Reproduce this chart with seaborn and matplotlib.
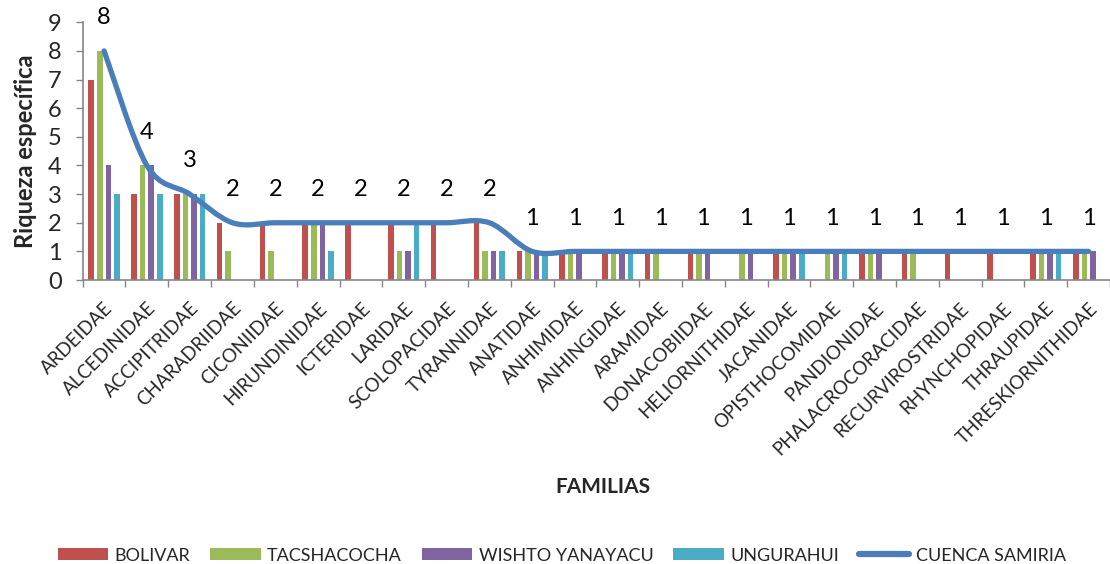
import numpy as np
import pandas as pd
import matplotlib
matplotlib.use("Agg")
import matplotlib.pyplot as plt
from matplotlib.path import Path
from matplotlib.patches import PathPatch, Patch
from matplotlib.lines import Line2D
import seaborn as sns

families = ["ARDEIDAE", "ALCEDINIDAE", "ACCIPITRIDAE", "CHARADRIIDAE", "CICONIIDAE",
            "HIRUNDINIDAE", "ICTERIDAE", "LARIDAE", "SCOLOPACIDAE", "TYRANNIDAE",
            "ANATIDAE", "ANHIMIDAE", "ANHINGIDAE", "ARAMIDAE", "DONACOBIIDAE",
            "HELIORNITHIDAE", "JACANIDAE", "OPISTHOCOMIDAE", "PANDIONIDAE",
            "PHALACROCORACIDAE", "RECURVIROSTRIDAE", "RHYNCHOPIDAE", "THRAUPIDAE",
            "THRESKIORNITHIDAE"]

bolivar = [7, 3, 3, 2, 2, 2, 2, 2, 2, 2, 1, 1, 1, 1, 1, 0, 1, 0, 1, 1, 1, 1, 1, 1]
tacshacocha = [8, 4, 3, 1, 1, 2, 0, 1, 0, 1, 1, 1, 1, 1, 1, 1, 1, 1, 1, 1, 0, 0, 1, 1]
wishto_yanayacu = [4, 4, 3, 0, 0, 2, 0, 1, 0, 1, 1, 1, 1, 0, 1, 1, 1, 1, 1, 0, 0, 0, 1, 1]
ungurahui = [3, 3, 3, 0, 0, 1, 0, 2, 0, 1, 1, 0, 1, 0, 0, 0, 1, 1, 0, 0, 0, 0, 1, 0]
cuenca_samiria = [8, 4, 3, 2, 2, 2, 2, 2, 2, 2, 1, 1, 1, 1, 1, 1, 1, 1, 1, 1, 1, 1, 1, 1]

sites = ["BOLIVAR", "TACSHACOCHA", "WISHTO YANAYACU", "UNGURAHUI"]
site_colors = ["#C0504D", "#9BBB59", "#8064A2", "#4BACC6"]
total_label = "CUENCA SAMIRIA"
line_color = "#4A7EBB"

sns.set_theme(style="white")
plt.rcParams["font.family"] = ["Lato", "DejaVu Sans"]

df = pd.DataFrame({
    "family": np.repeat(families, len(sites)),
    "site": sites * len(families),
    "value": np.ravel(np.column_stack([bolivar, tacshacocha, wishto_yanayacu, ungurahui])),
})

fig = plt.figure(figsize=(11.1, 5.64), dpi=100)
ax = fig.add_axes([0.0745, 0.5035, 0.9255, 0.457])

sns.barplot(data=df, x="family", y="value", hue="site", order=families,
            hue_order=sites, palette=site_colors, width=0.8, gap=0.35,
            linewidth=0, saturation=1, errorbar=None, ax=ax, legend=False)

# smoothed total line (Catmull-Rom as cubic Bezier segments)
xs = np.arange(len(families), dtype=float)
ys = np.array(cuenca_samiria, dtype=float)
pts = np.column_stack([xs, ys])
ext = np.vstack([pts[0], pts, pts[-1]])
verts = [tuple(pts[0])]
codes = [Path.MOVETO]
for i in range(len(pts) - 1):
    p0, p1, p2, p3 = ext[i], ext[i + 1], ext[i + 2], ext[i + 3]
    c1 = p1 + (p2 - p0) / 6.0
    c2 = p2 - (p3 - p1) / 6.0
    verts += [tuple(c1), tuple(c2), tuple(p2)]
    codes += [Path.CURVE4] * 3
ax.add_patch(PathPatch(Path(verts, codes), facecolor="none", edgecolor=line_color,
                       linewidth=3.8, capstyle="round", joinstyle="round", zorder=5))

for x, v in zip(xs, cuenca_samiria):
    ax.annotate(str(v), (x, v), xytext=(0, 24), textcoords="offset points",
                ha="center", va="center", fontsize=17, color="black", zorder=6)

ax.set_xlim(-0.5, len(families) - 0.5)
ax.set_ylim(0, 9)
ax.set_yticks(range(0, 10))
ax.tick_params(axis="y", labelsize=17, length=5, width=1, color="#868686",
               direction="out", pad=10, left=True)
ax.set_xticks(xs)
ax.set_xticklabels(families, rotation=45, ha="right", rotation_mode="anchor",
                   fontsize=13.5)
ax.tick_params(axis="x", length=0, pad=14)
ax.set_xticks(np.arange(-0.5, len(families), 1.0), minor=True)
ax.tick_params(axis="x", which="minor", length=5, width=1, color="#868686",
               direction="out", bottom=True)

for side in ["top", "right"]:
    ax.spines[side].set_visible(False)
for side in ["left", "bottom"]:
    ax.spines[side].set_color("#868686")
    ax.spines[side].set_linewidth(1.2)

ax.set_ylabel("Riqueza específica", fontsize=17, fontweight="bold", labelpad=8)
ax.set_xlabel("")
fig.text(0.543, 0.137, "FAMILIAS", ha="center", va="center",
         fontsize=15, fontweight="bold")

handles = [Patch(facecolor=c, edgecolor="none") for c in site_colors]
handles.append(Line2D([0], [0], color=line_color, linewidth=4.5, solid_capstyle="round"))
fig.legend(handles, sites + [total_label], loc="lower center",
           bbox_to_anchor=(0.506, -0.028), ncol=5, frameon=False, fontsize=13,
           handlelength=2.8, handleheight=0.6, handletextpad=0.35,
           columnspacing=1.1)

fig.savefig("out.png", dpi=100)
